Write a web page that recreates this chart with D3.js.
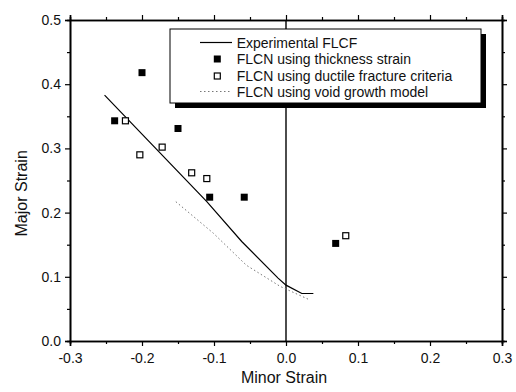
<!DOCTYPE html>
<html>
<head>
<meta charset="utf-8">
<script src="https://cdn.jsdelivr.net/npm/d3@7"></script>
<style>
	body { margin: 0; background: #fff; }
	svg { display: block; font-family: 'Liberation Sans', Arial, sans-serif; }
</style>
</head>
<body>
<script>
// data
const xTicks = [-0.3, -0.2, -0.1, 0.0, 0.1, 0.2, 0.3];
const yTicks = [0.0, 0.1, 0.2, 0.3, 0.4, 0.5];
const xMinor = [-0.25, -0.15, -0.05, 0.05, 0.15, 0.25];
const yMinor = [0.05, 0.15, 0.25, 0.35, 0.45];

const expX = [-0.252, -0.110, -0.0615, -0.011, 0.0, 0.022, 0.038];
const expY = [0.383, 0.217, 0.155, 0.098, 0.087, 0.074, 0.074];
const voidX = [-0.153, -0.101, -0.055, -0.008, 0.033];
const voidY = [0.217, 0.168, 0.118, 0.085, 0.064];
const thickX = [-0.238, -0.200, -0.150, -0.106, -0.058, 0.069];
const thickY = [0.343, 0.418, 0.331, 0.224, 0.224, 0.152];
const ductX = [-0.223, -0.203, -0.172, -0.131, -0.110, 0.083];
const ductY = [0.343, 0.290, 0.302, 0.262, 0.253, 0.164];

const legendLabels = [
	'Experimental FLCF',
	'FLCN using thickness strain',
	'FLCN using ductile fracture criteria',
	'FLCN using void growth model'
];

const W = 516, H = 392;
const margin = { top: 20, right: 14, bottom: 51, left: 70 };
const width = W - margin.left - margin.right;
const height = H - margin.top - margin.bottom;

const x = d3.scaleLinear().domain([-0.3, 0.3]).range([0, width]);
const y = d3.scaleLinear().domain([0, 0.5]).range([height, 0]);
const fmt = d => d.toFixed(1);

const svg = d3.select('body').append('svg')
	.attr('width', W).attr('height', H)
	.append('g').attr('transform', 'translate(' + margin.left + ',' + margin.top + ')');

function zip(xs, ys) { return xs.map((v, i) => [v, ys[i]]); }

// axes: major + minor ticks, all pointing outward
function styleAxis(g) {
	g.select('.domain').attr('stroke', '#000').attr('stroke-width', 1.6);
	g.selectAll('.tick line').attr('stroke', '#000').attr('stroke-width', 1.2);
	g.selectAll('.tick text').attr('fill', '#111').style('font-size', '14px');
}

svg.append('g').attr('transform', 'translate(0,' + height + ')')
	.call(d3.axisBottom(x).tickValues(xTicks).tickFormat(fmt).tickSize(5).tickPadding(7))
	.call(styleAxis);
svg.append('g').attr('transform', 'translate(0,' + height + ')')
	.call(d3.axisBottom(x).tickValues(xMinor).tickFormat('').tickSize(3))
	.call(styleAxis);

svg.append('g')
	.call(d3.axisLeft(y).tickValues(yTicks).tickFormat(fmt).tickSize(5).tickPadding(4))
	.call(styleAxis);
svg.append('g').call(d3.axisLeft(y).tickValues(yMinor).tickFormat('').tickSize(3))
	.call(styleAxis);

svg.append('g').call(d3.axisTop(x).tickValues(xTicks).tickFormat('').tickSize(5)).call(styleAxis);
svg.append('g').call(d3.axisTop(x).tickValues(xMinor).tickFormat('').tickSize(3)).call(styleAxis);
svg.append('g').attr('transform', 'translate(' + width + ',0)')
	.call(d3.axisRight(y).tickValues(yTicks).tickFormat('').tickSize(5)).call(styleAxis);
svg.append('g').attr('transform', 'translate(' + width + ',0)')
	.call(d3.axisRight(y).tickValues(yMinor).tickFormat('').tickSize(3)).call(styleAxis);

// vertical reference line at zero minor strain
svg.append('line')
	.attr('x1', x(0)).attr('x2', x(0)).attr('y1', 0).attr('y2', height)
	.attr('stroke', '#000').attr('stroke-width', 1.4);

// axis titles
svg.append('text')
	.attr('x', x(0) - 2).attr('y', height + 42)
	.attr('text-anchor', 'middle').style('font-size', '16px').attr('fill', '#111')
	.text('Minor Strain');
svg.append('text')
	.attr('transform', 'translate(' + (27 - margin.left) + ',' + (y(0.23)) + ') rotate(-90)')
	.attr('text-anchor', 'middle').style('font-size', '16px').attr('fill', '#111')
	.text('Major Strain');

// curves
const line = d3.line().x(d => x(d[0])).y(d => y(d[1]));
svg.append('path').datum(zip(expX, expY))
	.attr('d', line).attr('fill', 'none').attr('stroke', '#000').attr('stroke-width', 1.2);
svg.append('path').datum(zip(voidX, voidY))
	.attr('d', line).attr('fill', 'none').attr('stroke', '#777').attr('stroke-width', 1)
	.attr('stroke-dasharray', '1.5,2.5');

// points
const sq = 7;
svg.append('g').selectAll('rect').data(zip(thickX, thickY)).join('rect')
	.attr('x', d => x(d[0]) - sq / 2).attr('y', d => y(d[1]) - sq / 2)
	.attr('width', sq).attr('height', sq).attr('fill', '#000');
svg.append('g').selectAll('rect').data(zip(ductX, ductY)).join('rect')
	.attr('x', d => x(d[0]) - sq / 2 + 0.5).attr('y', d => y(d[1]) - sq / 2 + 0.5)
	.attr('width', sq - 1).attr('height', sq - 1).attr('fill', '#fff')
	.attr('stroke', '#000').attr('stroke-width', 1.2);

// legend with drop shadow
const lg = svg.append('g').attr('transform', 'translate(' + (170 - margin.left) + ',' + (29 - margin.top) + ')');
const lw = 311, lh = 74;
lg.append('rect').attr('x', 5).attr('y', 5).attr('width', lw).attr('height', lh).attr('fill', '#000');
lg.append('rect').attr('width', lw).attr('height', lh).attr('fill', '#fff')
	.attr('stroke', '#000').attr('stroke-width', 1);

const rowY = [13.5, 30, 47, 62.5];
legendLabels.forEach((label, i) => {
	const cy = rowY[i];
	if (i === 0) {
		lg.append('line').attr('x1', 30).attr('x2', 62).attr('y1', cy).attr('y2', cy)
			.attr('stroke', '#000').attr('stroke-width', 1.2);
	} else if (i === 1) {
		lg.append('rect').attr('x', 47.3 - sq / 2).attr('y', cy - sq / 2).attr('width', sq).attr('height', sq).attr('fill', '#000');
	} else if (i === 2) {
		lg.append('rect').attr('x', 47.3 - sq / 2 + 0.5).attr('y', cy - sq / 2 + 0.5)
			.attr('width', sq - 1).attr('height', sq - 1).attr('fill', '#fff').attr('stroke', '#000').attr('stroke-width', 1.2);
	} else {
		lg.append('line').attr('x1', 30).attr('x2', 62).attr('y1', cy).attr('y2', cy)
			.attr('stroke', '#777').attr('stroke-width', 1).attr('stroke-dasharray', '1.5,2.5');
	}
	lg.append('text').attr('x', 66.7).attr('y', cy).attr('dy', '0.36em')
		.style('font-size', '14px').attr('fill', '#111').text(label);
});
</script>
</body>
</html>
